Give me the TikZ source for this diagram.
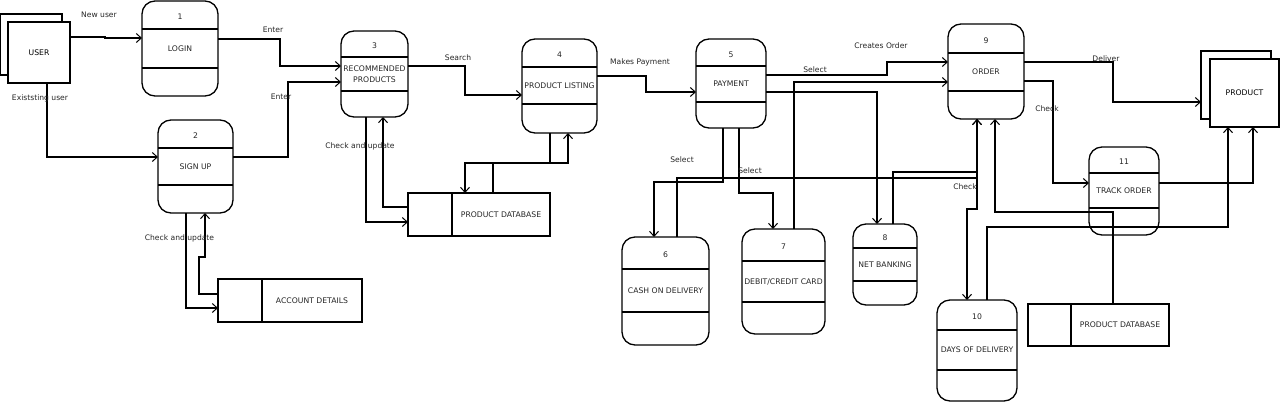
\documentclass[tikz,border=0pt]{standalone}
\usepackage{fontspec}
\newfontfamily\dvs{DejaVu Sans}
\usetikzlibrary{arrows.meta}
\tikzset{
  ln/.style={line width=1.2pt, black},
  arr/.style={ln, -{Straight Barb[length=5pt,width=9pt,line width=1pt]}},
  procbox/.style={draw, line width=1.3pt, rounded corners=13pt, inner sep=0pt, outer sep=0pt},
  divline/.style={line width=1.1pt},
  entbox/.style={draw, line width=1.3pt, fill=white, inner sep=0pt, outer sep=0pt, font=\dvs\fontsize{7.7}{9}\selectfont},
  storebox/.style={draw, line width=1.2pt, inner sep=0pt, outer sep=0pt},
  txt/.style={font=\dvs\fontsize{7.7}{11}\selectfont, text=black!85, inner sep=0pt},
  lbl/.style={font=\dvs\fontsize{7.6}{9}\selectfont, text=black!85, inner sep=0pt}
}
\newcommand\procnode[9]{%
  \node[procbox, minimum width={#4-#2}, minimum height={#5-#3}] (#1) at ({(#2+#4)/2},{(#3+#5)/2}) {};
  \draw[divline] (#1.west |- 0,#6) -- (#1.east |- 0,#6);
  \draw[divline] (#1.west |- 0,#7) -- (#1.east |- 0,#7);
  \node[txt] at ({(#2+#4)/2},{(#3+#6)/2+2}) {#8};
  \node[txt, align=center] at ({(#2+#4)/2},{(#6+#7)/2}) {#9};
}
\begin{document}
\begin{tikzpicture}[x=1pt,y=-1pt]
\useasboundingbox (0,0) rectangle (1280,402);
\fill[white] (0,0) rectangle (1280,402);

% external entities
\node[entbox, minimum width=62, minimum height=61] (userbk) at (31,44.5) {};
\node[entbox, minimum width=62, minimum height=61] (user) at (39,52.5) {USER};
\node[entbox, minimum width=70, minimum height=68] (productbk) at (1236,85) {};
\node[entbox, minimum width=69, minimum height=68] (product) at (1244.5,93) {PRODUCT};

% processes
\procnode{login}{142}{1}{218}{96}{29}{68}{1}{LOGIN}
\procnode{signup}{158}{120}{233}{213}{148}{185}{2}{SIGN UP}
\procnode{rec}{341}{31}{408}{117}{57}{91}{3}{RECOMMENDED\\PRODUCTS}
\procnode{plist}{522}{39}{597}{133}{67}{104}{4}{PRODUCT LISTING}
\procnode{pay}{696}{39}{766}{128}{66}{102}{5}{PAYMENT}
\procnode{cod}{622}{237}{709}{345}{269}{312}{6}{CASH ON DELIVERY}
\procnode{card}{742}{229}{825}{334}{261}{302}{7}{DEBIT/CREDIT CARD}
\procnode{net}{853}{224}{917}{305}{248}{281}{8}{NET BANKING}
\procnode{order}{948}{24}{1024}{119}{53}{91}{9}{ORDER}
\procnode{days}{937}{300}{1017}{401}{330}{370}{10}{DAYS OF DELIVERY}
\procnode{track}{1089}{147}{1159}{235}{173}{208}{11}{TRACK ORDER}

% data stores
\node[storebox, minimum width=144, minimum height=43] (acct) at (290,300.5) {};
\draw[divline] (262,0 |- acct.north) -- (262,0 |- acct.south);
\node[txt] at (312,301) {ACCOUNT DETAILS};
\node[storebox, minimum width=142, minimum height=43] (pdbA) at (479,214.5) {};
\draw[divline] (452,0 |- pdbA.north) -- (452,0 |- pdbA.south);
\node[txt] at (501,215) {PRODUCT DATABASE};
\node[storebox, minimum width=141, minimum height=42] (pdbB) at (1098.5,325) {};
\draw[divline] (1071,0 |- pdbB.north) -- (1071,0 |- pdbB.south);
\node[txt] at (1120,325) {PRODUCT DATABASE};

% connectors
\draw[arr] (user.east |- 0,37) -- (105,37) |- (login.west |- 0,38);
\draw[arr] (47,0 |- user.south) |- (signup.west |- 0,157);
\draw[arr] (login.east |- 0,39) -| (280,66) -- (rec.west |- 0,66);
\draw[arr] (signup.east |- 0,157) -| (288,82) -- (rec.west |- 0,82);
\draw[arr] (rec.east |- 0,66) -| (465,95) -- (plist.west |- 0,95);
\draw[arr] (plist.east |- 0,76) -| (646,92) -- (pay.west |- 0,92);
\draw[arr] (366,0 |- rec.south) |- (pdbA.west |- 0,222);
\draw[arr] (pdbA.west |- 0,207) -| (383,0 |- rec.south);
\draw[arr] (550,0 |- plist.south) |- (465,163) -- (465,0 |- pdbA.north);
\draw[arr] (493,0 |- pdbA.north) |- (568,163) -- (568,0 |- plist.south);
\draw[arr] (186,0 |- signup.south) |- (acct.west |- 0,308);
\draw[arr] (acct.west |- 0,294) -| (199,257) -| (205,0 |- signup.south);

\draw[arr] (723,0 |- pay.south) |- (654,182) -- (654,0 |- cod.north);
\draw[arr] (739,0 |- pay.south) |- (773,193) -- (773,0 |- card.north);
\draw[arr] (pay.east |- 0,92) -| (877,0 |- net.north);
\draw[arr] (pay.east |- 0,75) -| (887,62) -- (order.west |- 0,62);
\draw[arr] (794,0 |- card.north) |- (order.west |- 0,82);
\draw[arr] (677,0 |- cod.north) |- (977,178) -- (977,0 |- order.south);
\draw[arr] (893,0 |- net.north) |- (977,172) -- (977,0 |- order.south);
\draw[arr] (977,0 |- order.south) -- (977,209) -| (967,0 |- days.north);
\draw[arr] (987,0 |- days.north) |- (1228,227) -- (1228,0 |- product.south);
\draw[arr] (1113,0 |- pdbB.north) |- (995,212) -- (995,0 |- order.south);
\draw[arr] (order.east |- 0,62) -| (1113,102) -- (productbk.west |- 0,102);
\draw[arr] (order.east |- 0,81) -| (1053,183) -- (track.west |- 0,183);
\draw[arr] (track.east |- 0,183) -| (1253,0 |- product.south);

% labels
\node[lbl] at (99,15) {New user};
\node[lbl] at (40,98) {Existsting user};
\node[lbl] at (273,30) {Enter};
\node[lbl] at (281,97) {Enter};
\node[lbl] at (179.5,238) {Check and update};
\node[lbl] at (360,146) {Check and update};
\node[lbl] at (458,58) {Search};
\node[lbl] at (640,62) {Makes Payment};
\node[lbl] at (881,46) {Creates Order};
\node[lbl] at (815,70) {Select};
\node[lbl] at (682,160) {Select};
\node[lbl] at (750,171) {Select};
\node[lbl] at (965,187) {Check};
\node[lbl] at (1047,109) {Check};
\node[lbl] at (1106,59) {Deliver};
\end{tikzpicture}
\end{document}
